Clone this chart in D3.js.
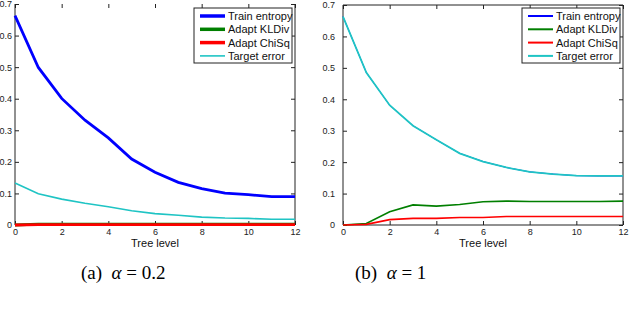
<!DOCTYPE html>
<html>
<head>
<meta charset="utf-8">
<script src="https://cdn.jsdelivr.net/npm/d3@7"></script>
<style>
  body { margin: 0; background: #fff; }
  svg { display: block; }
  .tick text { font-family: "Liberation Sans", Arial, sans-serif; font-size: 9px; fill: #222; }
</style>
</head>
<body>
<div id="chart"></div>
<script>
// tree levels on the x axis
var levels = [0, 1, 2, 3, 4, 5, 6, 7, 8, 9, 10, 11, 12];
var xTicks = [0, 2, 4, 6, 8, 10, 12];
var yTicks = [0, 0.1, 0.2, 0.3, 0.4, 0.5, 0.6, 0.7];
var seriesNames = ["Train entropy", "Adapt KLDiv", "Adapt ChiSq", "Target error"];
var seriesColors = ["#0000ff", "#007f00", "#ff0000", "#1fc4c4"];

// (a) alpha = 0.2
var trainA  = [0.663, 0.499, 0.401, 0.332, 0.276, 0.209, 0.167, 0.135, 0.115, 0.101, 0.096, 0.090, 0.090];
var kldivA  = [0.000, 0.003, 0.003, 0.003, 0.003, 0.003, 0.003, 0.003, 0.003, 0.003, 0.003, 0.003, 0.003];
var chisqA  = [0.000, 0.001, 0.001, 0.001, 0.001, 0.001, 0.001, 0.001, 0.001, 0.001, 0.001, 0.001, 0.001];
var targetA = [0.133, 0.099, 0.082, 0.069, 0.058, 0.045, 0.036, 0.031, 0.025, 0.022, 0.021, 0.018, 0.018];

// (b) alpha = 1 (train entropy lies under the target error curve)
var trainB  = [0.663, 0.485, 0.381, 0.316, 0.271, 0.228, 0.202, 0.183, 0.169, 0.162, 0.157, 0.156, 0.156];
var kldivB  = [0.000, 0.005, 0.042, 0.064, 0.060, 0.065, 0.074, 0.076, 0.075, 0.075, 0.075, 0.075, 0.076];
var chisqB  = [0.000, 0.002, 0.017, 0.021, 0.021, 0.024, 0.024, 0.027, 0.027, 0.027, 0.027, 0.027, 0.027];
var targetB = [0.663, 0.485, 0.381, 0.316, 0.271, 0.228, 0.202, 0.183, 0.169, 0.162, 0.157, 0.156, 0.156];

var svg = d3.select("#chart")
  .append("svg")
    .attr("width", 640)
    .attr("height", 312);

function inwardTicks(a) {
  a.select(".domain").remove();
  a.selectAll(".tick line").attr("stroke", "#222");
}

function drawPanel(left, top, series, widths, legendWidths, legendX, caption) {
  var x = d3.scaleLinear().domain([0, 12]).range([left, left + 280]);
  var y = d3.scaleLinear().domain([0, 0.7]).range([225, top]);

  var g = svg.append("g");

  // axes, ticks pointing inward like matlab
  g.append("g")
    .attr("transform", "translate(0,225)")
    .call(d3.axisBottom(x).tickValues(xTicks).tickSize(-4).tickPadding(4).tickFormat(d3.format("d")))
    .call(inwardTicks);
  g.append("g")
    .attr("transform", "translate(" + left + ",0)")
    .call(d3.axisLeft(y).tickValues(yTicks).tickSize(-4).tickPadding(left === 15 ? 3 : 8).tickFormat(function(d) { return d === 0 ? "0" : d3.format(".1f")(d); }))
    .call(inwardTicks);
  g.append("g")
    .attr("transform", "translate(" + (left + 280) + ",0)")
    .call(d3.axisRight(y).tickValues(yTicks).tickSize(-4).tickFormat(""))
    .call(inwardTicks);
  g.append("g")
    .attr("transform", "translate(0," + top + ")")
    .call(d3.axisTop(x).tickValues(xTicks).tickSize(-4).tickFormat(""))
    .call(inwardTicks);

  // box (left panel's top edge is cut off in the original)
  var box = [[left, top], [left, 225], [left + 280, 225], [left + 280, top]];
  if (caption.topEdge) box.push([left, top]);
  g.append("path")
    .attr("d", d3.line()(box))
    .attr("fill", "none").attr("stroke", "#222").attr("stroke-width", 1);

  // lines
  var line = d3.line()
    .x(function(d, i) { return x(levels[i]); })
    .y(function(d) { return y(d); });
  series.forEach(function(s, i) {
    g.append("path")
      .datum(s)
      .attr("d", line)
      .attr("fill", "none")
      .attr("stroke", seriesColors[i])
      .attr("stroke-width", widths[i]);
  });

  // legend
  var lg = g.append("g").attr("transform", "translate(" + legendX + ",8)");
  lg.append("rect")
    .attr("width", 98).attr("height", 55)
    .attr("fill", "#fff").attr("stroke", "#222").attr("stroke-width", 1);
  seriesNames.forEach(function(name, i) {
    var yy = 8 + i * 13.3;
    lg.append("line")
      .attr("x1", 6).attr("x2", 31)
      .attr("y1", yy).attr("y2", yy)
      .attr("stroke", seriesColors[i])
      .attr("stroke-width", legendWidths[i]);
    lg.append("text")
      .attr("x", 34).attr("y", yy + 4)
      .style("font-family", "Liberation Sans, Arial, sans-serif")
      .style("font-size", "11px")
      .attr("fill", "#111")
      .text(name);
  });

  // x label
  g.append("text")
    .attr("x", left + 140).attr("y", 247)
    .attr("text-anchor", "middle")
    .style("font-family", "Liberation Sans, Arial, sans-serif")
    .style("font-size", "11px")
    .attr("fill", "#111")
    .text("Tree level");

  // caption
  var c = g.append("text")
    .attr("x", caption.x).attr("y", 279)
    .style("font-family", "Liberation Serif, Times New Roman, serif")
    .style("font-size", "19px")
    .style("white-space", "pre")
    .attr("fill", "#000");
  c.append("tspan").text(caption.label + "\u2002");
  c.append("tspan").style("font-style", "italic").text("α");
  c.append("tspan").text(" = " + caption.value);
}

drawPanel(15, 4, [trainA, kldivA, chisqA, targetA], [2.8, 2.8, 2.8, 1.6], [3.5, 3.5, 3.5, 1.6], 194, {x: 81, label: "(a)", value: "0.2", topEdge: false});
drawPanel(343, 5, [trainB, kldivB, chisqB, targetB], [1, 1.6, 1.6, 1.8], [2, 2, 2, 2], 522, {x: 355, label: "(b)", value: "1", topEdge: true});
</script>
</body>
</html>
